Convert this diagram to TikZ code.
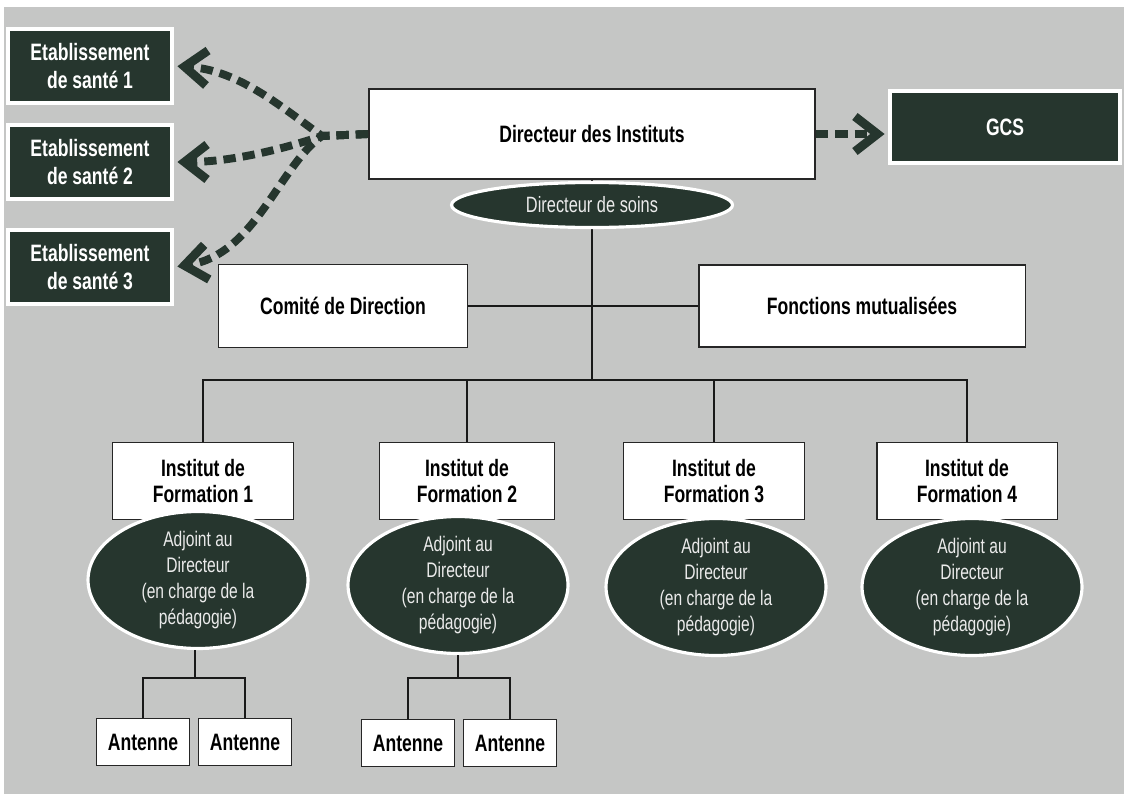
\documentclass[tikz,border=0pt]{standalone}
\usepackage{fontspec}
\setmainfont{Liberation Sans}[FakeStretch=0.74]
\usetikzlibrary{arrows.meta,shapes.geometric}
\definecolor{fond}{RGB}{197,198,197}
\definecolor{sapin}{RGB}{38,54,46}

\begin{document}
\begin{tikzpicture}[x=0.02cm,y=-0.02cm,
        boite/.style={draw=black!85,line width=1.1pt,fill=white,align=center,inner sep=0pt,
            font=\fontsize{13.5}{14.8}\selectfont\bfseries},
        sombre/.style={draw=white,line width=2.2pt,fill=sapin,text=white,align=center,inner sep=0pt,
            font=\fontsize{13.5}{16}\selectfont\bfseries},
        bulle/.style={ellipse,draw=white,line width=1.8pt,fill=sapin,inner sep=0pt,
            minimum width=4.4cm,minimum height=2.74cm},
        bulletexte/.style={text=white!92!black,align=center,font=\fontsize{12}{14.8}\selectfont},
        trait/.style={draw=black!90,line width=1.2pt},
        fleche/.style={draw=sapin,line width=4.5pt,dash pattern=on 7pt off 4pt,shorten >=2pt,
            -{Straight Barb[length=4.5mm,width=7mm,line width=5pt]}}]

                \fill[white] (0,0) rectangle (1124,794);
                \fill[fond] (4,7) rectangle (1124,794);

                \node[sombre,minimum width=3.28cm,minimum height=1.48cm] (etab1) at (90,66) {Etablissement\\de santé 1};
                \node[sombre,minimum width=3.28cm,minimum height=1.48cm] (etab2) at (90,162) {Etablissement\\de santé 2};
                \node[sombre,minimum width=3.28cm,minimum height=1.48cm] (etab3) at (90,267) {Etablissement\\de santé 3};
                \node[sombre,minimum width=4.6cm,minimum height=1.44cm] (gcs) at (1005,127) {GCS};

                \node[boite,minimum width=8.92cm,minimum height=1.8cm] (dirinst) at (592,134) {Directeur des Instituts};
                \node[boite,minimum width=4.98cm,minimum height=1.66cm] (comite) at (343,306) {Comité de Direction};
                \node[boite,minimum width=6.54cm,minimum height=1.64cm] (fonctions) at (862,306) {Fonctions mutualisées};

                \node[boite,minimum width=3.62cm,minimum height=1.54cm] (inst1) at (203,481) {Institut de\\Formation 1};
                \node[boite,minimum width=3.5cm,minimum height=1.54cm] (inst2) at (467,481) {Institut de\\Formation 2};
                \node[boite,minimum width=3.62cm,minimum height=1.54cm] (inst3) at (714,481) {Institut de\\Formation 3};
                \node[boite,minimum width=3.62cm,minimum height=1.54cm] (inst4) at (967,481) {Institut de\\Formation 4};

                \coordinate (bus) at (592,380);
                \coordinate (noeud) at (322,136);
                \coordinate (split1) at (195,678);
                \coordinate (split2) at (458,678);

                \draw[trait] (comite.east) -- (fonctions.west);
                \draw[trait] (dirinst.south) -- (bus);
                \draw[trait] (inst1.north) |- (bus) -| (inst4.north);
                \draw[trait] (inst2.north) -- (inst2.north |- bus);
                \draw[trait] (inst3.north) -- (inst3.north |- bus);

                \node[bulle,label={[bulletexte]center:Adjoint au\\Directeur\\(en charge de la\\pédagogie)}] (adj1) at (198,580) {};
                \node[bulle,label={[bulletexte]center:Adjoint au\\Directeur\\(en charge de la\\pédagogie)}] (adj2) at (458,585) {};
                \node[bulle,label={[bulletexte]center:Adjoint au\\Directeur\\(en charge de la\\pédagogie)}] (adj3) at (716,587) {};
                \node[bulle,label={[bulletexte]center:Adjoint au\\Directeur\\(en charge de la\\pédagogie)}] (adj4) at (972,587) {};

                \node[bulle,minimum width=5.62cm,minimum height=0.9cm,text=white!92!black,
                    font=\fontsize{12.6}{14}\selectfont] (soins) at (592,205) {Directeur de soins};

                \node[boite,minimum width=1.86cm,minimum height=0.94cm] (ant1a) at (143,742) {Antenne};
                \node[boite,minimum width=1.86cm,minimum height=0.94cm] (ant1b) at (245,742) {Antenne};
                \node[boite,minimum width=1.86cm,minimum height=0.94cm] (ant2a) at (408,743) {Antenne};
                \node[boite,minimum width=1.86cm,minimum height=0.94cm] (ant2b) at (510,743) {Antenne};

                \draw[trait] (adj1.south -| split1) -- (split1);
                \draw[trait] (ant1a.north) |- (split1) -| (ant1b.north);
                \draw[trait] (adj2.south) -- (split2);
                \draw[trait] (ant2a.north) |- (split2) -| (ant2b.north);

                \draw[fleche] (dirinst.west) -- (noeud) .. controls (285,110) and (240,70) .. (etab1.east);
                \draw[fleche] (dirinst.west) -- (noeud) .. controls (280,150) and (230,162) .. (etab2.east);
                \draw[fleche] (dirinst.west) -- (noeud) .. controls (280,165) and (255,255) .. (etab3.east);
                \draw[fleche] (dirinst.east) -- (dirinst.east -| gcs.west);

            \end{tikzpicture}
\end{document}
